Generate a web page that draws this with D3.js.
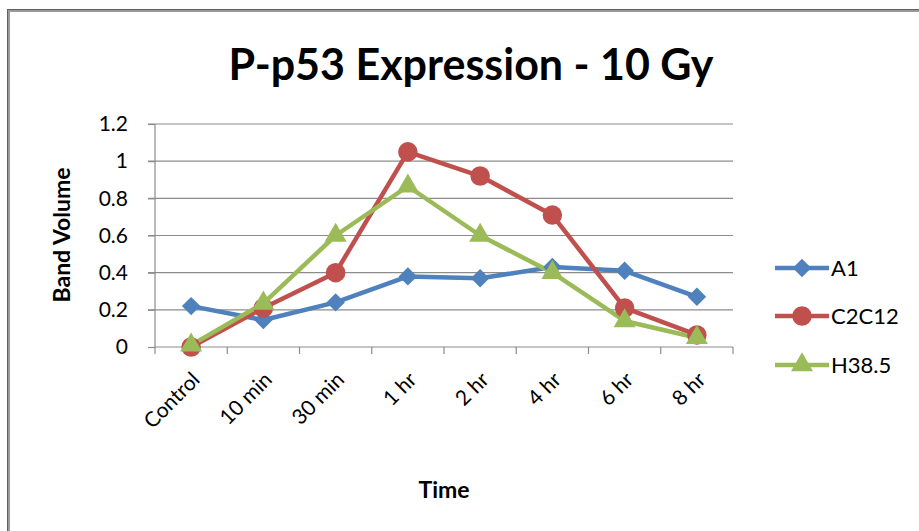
<!DOCTYPE html>
<html><head><meta charset="utf-8">
<script src="https://cdn.jsdelivr.net/npm/d3@7"></script>
<style>body{margin:0;background:#fff}svg{display:block}text{font-family:Lato,"Open Sans",sans-serif}</style>
</head><body>
<script>
const categories = ["Control","10 min","30 min","1 hr","2 hr","4 hr","6 hr","8 hr"];
const seriesNames = ["A1","C2C12","H38.5"];
const a1 = [0.22,0.145,0.24,0.38,0.37,0.43,0.41,0.27];
const c2c12 = [0.0,0.21,0.40,1.05,0.92,0.71,0.21,0.065];
const h385 = [0.01,0.235,0.60,0.865,0.60,0.40,0.14,0.05];
const yTicks = [0,0.2,0.4,0.6,0.8,1,1.2];
const colors = ["#4F81BD","#C0504D","#9BBB59"];
const series = [a1,c2c12,h385];

const W=919,H=531;
const svg=d3.select("body").append("svg").attr("width",W).attr("height",H);
// frame
svg.append("rect").attr("x",8.5).attr("y",10.5).attr("width",W+20).attr("height",H+20)
  .attr("fill","none").attr("stroke","#9a9a9a").attr("stroke-width",3);
svg.append("rect").attr("x",7.5).attr("y",9.5).attr("width",W+20).attr("height",H+20)
  .attr("fill","none").attr("stroke","#606060").attr("stroke-width",1);

const x=d3.scaleBand().domain(categories).range([155,733]);
const y=d3.scaleLinear().domain([0,1.2]).range([347,124]);

// gridlines
svg.append("g").selectAll("line").data(yTicks.slice(1)).join("line")
  .attr("x1",148).attr("x2",733).attr("y1",d=>y(d)).attr("y2",d=>y(d))
  .attr("stroke","#8c8c8c").attr("stroke-width",1.2);

// y axis
const ya=svg.append("g").attr("transform","translate(155,0)")
  .call(d3.axisLeft(y).tickValues(yTicks).tickSize(7).tickPadding(20).tickFormat(d=>String(d)));
ya.select(".domain").attr("stroke","#8c8c8c").attr("stroke-width",1.2).attr("d","M0,124V347");
ya.selectAll(".tick line").attr("stroke","#8c8c8c").attr("stroke-width",1.2);
ya.selectAll(".tick text").attr("font-size",21).attr("fill","#000").style("font-family","Lato, sans-serif");

// x axis
const xa=svg.append("g").attr("transform","translate(0,347)")
  .call(d3.axisBottom(x).tickSize(0).tickPadding(0));
xa.select(".domain").attr("stroke","#8c8c8c").attr("stroke-width",1.2).attr("d","M155,0H733");
const bounds=[...categories.map(c=>x(c)),733];
xa.selectAll(".bt").data(bounds).join("line").attr("class","bt")
  .attr("x1",d=>d).attr("x2",d=>d).attr("y1",0).attr("y2",7)
  .attr("stroke","#8c8c8c").attr("stroke-width",1.2);
xa.selectAll(".tick text").attr("font-size",21).attr("fill","#000")
  .attr("text-anchor","end").attr("dy",0)
  .attr("transform","translate(10,34) rotate(-45)");

// lines
const line=d3.line().x((d,i)=>x(categories[i])+x.bandwidth()/2).y(d=>y(d));
series.forEach((s,k)=>{
  svg.append("path").datum(s).attr("d",line).attr("fill","none")
    .attr("stroke",colors[k]).attr("stroke-width",4.5).attr("stroke-linejoin","round");
});
const symTypes=[d3.symbolSquare,d3.symbolCircle,d3.symbolTriangle];
const symSizes=[170,300,210];
series.forEach((s,k)=>{
  svg.append("g").selectAll("path").data(s).join("path")
    .attr("d",d3.symbol().type(symTypes[k]).size(symSizes[k]))
    .attr("fill",colors[k])
    .attr("transform",(d,i)=>`translate(${x(categories[i])+x.bandwidth()/2},${y(d)})`+(k===0?" rotate(45)":""));
});

// title
svg.append("text").attr("x",471).attr("y",80).attr("text-anchor","middle")
  .attr("font-size",43).attr("font-weight","bold").text("P-p53 Expression - 10 Gy");
// axis titles
svg.append("text").attr("transform","translate(70,235) rotate(-90)").attr("text-anchor","middle")
  .attr("font-size",23).attr("font-weight","bold").text("Band Volume");
svg.append("text").attr("x",444).attr("y",498).attr("text-anchor","middle")
  .attr("font-size",23).attr("font-weight","bold").text("Time");

// legend
const lg=svg.append("g");
seriesNames.forEach((n,k)=>{
  const ly=[268,316,365][k];
  lg.append("line").attr("x1",775).attr("x2",829).attr("y1",ly).attr("y2",ly)
    .attr("stroke",colors[k]).attr("stroke-width",4.5);
  lg.append("path").attr("transform",`translate(802,${ly})`+(k===0?" rotate(45)":""))
    .attr("d",d3.symbol().type(symTypes[k]).size(symSizes[k]))
    .attr("fill",colors[k]);
  lg.append("text").attr("x",831).attr("y",ly+8).attr("font-size",22).text(n);
});
</script>
</body></html>
